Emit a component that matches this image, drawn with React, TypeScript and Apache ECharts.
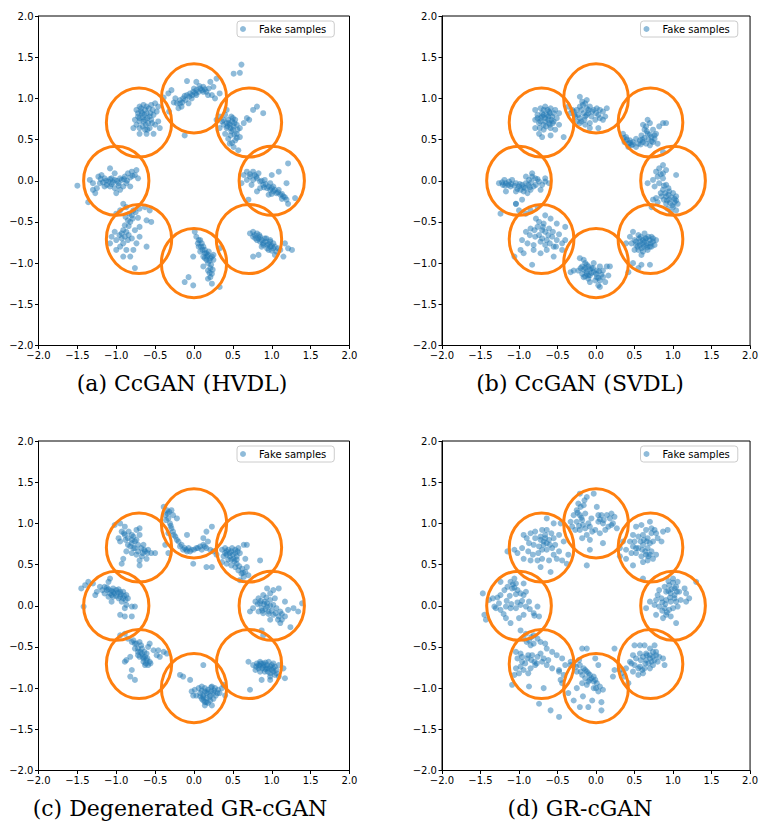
import React, { useEffect, useRef } from "react";
import * as echarts from "echarts";

const panelTitles = ["(a) CcGAN (HVDL)", "(b) CcGAN (SVDL)", "(c) Degenerated GR-cGAN", "(d) GR-cGAN"];
const seriesName = "Fake samples";
const ringCenters = [[1, 0], [0.7071, 0.7071], [0, 1], [-0.7071, 0.7071], [-1, 0], [-0.7071, -0.7071], [0, -1], [0.7071, -0.7071]];
const ringRadius = 0.42;
const axisMin = -2;
const axisMax = 2;
const axisStep = 0.5;

const hvdlPoints = [
  [-0.18,0.94],[-0.14,1.00],[-0.09,1.04],[-0.05,1.06],[-0.01,1.08],[0.03,1.10],[0.08,1.12],[0.12,1.14],[0.16,1.08],[0.23,1.04],[0.27,1.00],[-0.20,0.88],[-0.16,0.90],[-0.24,1.00],[-0.29,1.10],[-0.33,1.06],[-0.09,1.21],[0.03,1.20],[0.21,1.20],[0.29,1.24],[0.33,1.06],[0.61,1.41],[0.59,1.31],[0.51,1.30],[-0.12,0.55],[-0.32,0.84],[-0.03,1.00],[-0.07,0.94],[0.03,1.04],[0.12,1.08],[-0.22,0.94],[0.25,1.14],[-0.39,1.01],
  [-0.74,0.86],[-0.70,0.90],[-0.65,0.92],[-0.61,0.90],[-0.55,0.92],[-0.50,0.94],[-0.46,0.90],[-0.48,0.84],[-0.52,0.80],[-0.57,0.78],[-0.61,0.82],[-0.67,0.82],[-0.72,0.78],[-0.76,0.74],[-0.74,0.68],[-0.70,0.64],[-0.63,0.62],[-0.57,0.64],[-0.50,0.68],[-0.46,0.72],[-0.65,0.72],[-0.59,0.70],[-0.70,0.57],[-0.61,0.57],[-0.52,0.57],[-0.44,0.64],[-0.78,0.64],[-0.70,0.76],[-0.55,0.74],[-0.63,0.86],
  [0.33,0.78],[0.40,0.80],[0.44,0.74],[0.48,0.78],[0.53,0.74],[0.55,0.68],[0.51,0.66],[0.46,0.68],[0.42,0.64],[0.38,0.68],[0.36,0.72],[0.48,0.60],[0.55,0.57],[0.59,0.64],[0.64,0.70],[0.59,0.53],[0.53,0.49],[0.46,0.45],[0.51,0.41],[0.57,0.37],[0.44,0.51],[0.40,0.57],[0.68,0.76],[0.71,0.74],[0.81,0.90],[0.89,0.82],[0.76,0.86],[0.33,0.64],[0.42,0.86],[0.29,0.74],
  [0.64,0.07],[0.68,0.11],[0.72,0.05],[0.76,0.01],[0.81,0.03],[0.85,-0.01],[0.89,-0.05],[0.94,-0.09],[0.98,-0.11],[1.02,-0.13],[1.06,-0.15],[1.11,-0.17],[1.15,-0.19],[1.19,-0.23],[1.21,-0.28],[1.02,-0.07],[0.98,-0.03],[0.91,0.01],[0.83,0.09],[0.76,0.11],[0.68,0.01],[0.74,-0.05],[0.85,-0.09],[0.96,-0.17],[1.09,-0.11],[1.19,-0.03],[1.21,0.21],[1.09,0.11],[1.30,-0.21],[0.70,-0.23],[0.81,-0.13],[0.61,-0.03],[1.00,0.07],
  [0.72,-0.64],[0.76,-0.68],[0.81,-0.72],[0.85,-0.74],[0.89,-0.76],[0.94,-0.78],[0.98,-0.80],[1.02,-0.82],[1.06,-0.86],[1.02,-0.76],[0.98,-0.72],[0.91,-0.70],[0.85,-0.68],[0.81,-0.64],[0.76,-0.62],[0.87,-0.80],[0.96,-0.84],[1.11,-0.84],[1.17,-0.76],[1.21,-0.82],[1.26,-0.84],[1.15,-0.92],[1.04,-0.90],[0.76,-0.92],[0.83,-0.90],[0.98,-0.74],
  [0.01,-0.62],[0.03,-0.68],[0.06,-0.72],[0.10,-0.76],[0.12,-0.80],[0.14,-0.84],[0.16,-0.88],[0.18,-0.90],[0.21,-0.94],[0.23,-0.92],[0.25,-0.96],[0.16,-0.96],[0.12,-0.92],[0.08,-0.86],[0.06,-0.80],[0.18,-1.00],[0.21,-1.06],[0.23,-1.13],[0.21,-1.17],[0.23,-1.25],[0.25,-0.90],[0.33,-0.82],[-0.01,-0.92],[-0.07,-1.17],[-0.12,-1.23],[-0.01,-1.27],[0.33,-1.29],[0.18,-1.19],[0.12,-1.04],
  [-0.95,-0.36],[-0.87,-0.32],[-0.78,-0.36],[-0.70,-0.34],[-0.80,-0.42],[-0.85,-0.48],[-0.89,-0.54],[-0.91,-0.60],[-0.93,-0.64],[-0.89,-0.68],[-0.85,-0.72],[-0.91,-0.76],[-0.95,-0.80],[-1.00,-0.72],[-1.02,-0.62],[-1.06,-0.68],[-1.08,-0.76],[-1.00,-0.84],[-0.91,-0.92],[-0.82,-0.92],[-0.76,-1.06],[-0.74,-0.76],[-0.70,-0.68],[-0.70,-0.56],[-0.76,-0.60],[-0.61,-0.48],[-0.55,-0.50],[-0.61,-0.80],[-0.78,-0.84],[-0.87,-0.84],[-0.63,-0.32],[-0.57,-0.36],[-0.91,-0.28],[-1.00,-0.40],
  [-1.50,-0.06],[-1.34,0.01],[-1.30,-0.03],[-1.23,0.05],[-1.19,0.07],[-1.15,0.03],[-1.10,-0.01],[-1.06,0.03],[-1.02,0.01],[-0.97,-0.03],[-0.93,0.01],[-0.89,0.05],[-0.85,0.09],[-0.80,0.11],[-0.76,0.07],[-0.72,0.03],[-0.87,-0.03],[-0.91,-0.07],[-0.95,-0.11],[-1.02,-0.09],[-1.08,-0.07],[-1.15,-0.07],[-1.21,-0.03],[-1.25,-0.09],[-1.30,-0.11],[-1.08,0.15],[-1.02,0.09],[-0.82,-0.07],[-1.36,-0.26],[-1.27,-0.15],[-1.00,-0.15],[-0.74,0.13]
];
const hvdlDense = [
  [-0.15,0.95],[-0.11,0.98],[-0.06,1.02],[-0.02,1.04],[0.02,1.06],[0.06,1.08],[0.10,1.10],[0.14,1.11],[0.19,1.12],[0.07,1.15],[-0.12,1.03],[-0.18,0.98],[0.00,1.12],[0.18,1.04],[-0.26,0.95],
  [-0.68,0.84],[-0.64,0.80],[-0.60,0.76],[-0.66,0.77],[-0.70,0.72],[-0.62,0.68],[-0.56,0.82],[-0.53,0.86],[-0.58,0.88],[-0.68,0.88],[-0.72,0.82],[-0.66,0.66],[-0.60,0.62],[-0.54,0.70],[-0.63,0.74],
  [0.45,0.70],[0.49,0.72],[0.52,0.70],[0.47,0.64],[0.50,0.62],[0.43,0.66],[0.56,0.62],[0.52,0.56],[0.47,0.55],[0.42,0.70],[0.38,0.74],[0.50,0.76],[0.55,0.52],[0.49,0.46],
  [0.80,0.05],[0.87,0.00],[0.92,-0.04],[0.96,-0.07],[1.00,-0.09],[1.04,-0.11],[1.08,-0.14],[1.13,-0.16],[1.17,-0.20],[0.78,0.07],[0.72,0.08],[0.90,-0.08],[1.00,-0.16],[1.13,-0.22],
  [0.78,-0.66],[0.83,-0.70],[0.87,-0.72],[0.92,-0.74],[0.96,-0.77],[1.00,-0.79],[1.04,-0.80],[0.94,-0.82],[0.89,-0.78],[0.84,-0.66],[0.79,-0.70],[1.00,-0.85],[1.08,-0.82],[0.93,-0.70],
  [0.05,-0.76],[0.09,-0.80],[0.11,-0.84],[0.14,-0.88],[0.17,-0.92],[0.20,-0.97],[0.19,-0.86],[0.14,-0.94],[0.22,-1.02],[0.18,-1.09],[0.08,-0.72],[0.24,-1.08],[0.20,-1.12],
  [-0.83,-0.40],[-0.79,-0.46],[-0.84,-0.55],[-0.87,-0.62],[-0.84,-0.66],[-0.80,-0.70],[-0.88,-0.44],[-0.75,-0.38],[-0.93,-0.70],[-0.96,-0.66],[-0.82,-0.50],[-0.72,-0.45],
  [-1.13,0.00],[-1.08,0.02],[-1.04,-0.02],[-0.99,0.00],[-0.95,0.03],[-0.90,0.02],[-0.86,0.00],[-0.82,0.04],[-1.17,-0.02],[-1.20,0.02],[-1.12,-0.05],[-0.97,-0.06],[-0.79,0.06],[-1.06,-0.04]
];

const svdlPoints = [
  [-0.21,1.02],[-0.18,0.96],[-0.14,0.94],[-0.21,0.90],[-0.25,0.86],[-0.29,0.84],[-0.33,0.82],[-0.27,0.78],[-0.21,0.76],[-0.14,0.78],[-0.10,0.82],[-0.12,0.88],[-0.08,0.90],[-0.03,0.86],[0.01,0.88],[0.05,0.86],[0.09,0.84],[0.12,0.78],[0.05,0.76],[-0.01,0.74],[-0.08,0.70],[-0.14,0.68],[-0.21,0.70],[0.09,0.74],[0.14,0.88],[0.03,0.64],[-0.08,0.64],[-0.36,0.90],[-0.25,0.72],[-0.06,0.78],
  [-0.79,0.86],[-0.72,0.88],[-0.66,0.90],[-0.59,0.88],[-0.53,0.86],[-0.48,0.82],[-0.51,0.76],[-0.55,0.72],[-0.61,0.70],[-0.68,0.68],[-0.74,0.70],[-0.79,0.74],[-0.76,0.80],[-0.70,0.82],[-0.64,0.80],[-0.57,0.78],[-0.72,0.76],[-0.66,0.76],[-0.59,0.64],[-0.68,0.62],[-0.74,0.57],[-0.59,0.55],[-0.53,0.62],[-0.48,0.68],[-0.79,0.64],[-0.70,0.53],[-0.42,0.53],[-0.61,0.84],[-0.55,0.82],[-0.73,0.64],
  [0.35,0.57],[0.39,0.53],[0.44,0.49],[0.46,0.43],[0.42,0.41],[0.48,0.47],[0.52,0.51],[0.57,0.49],[0.61,0.47],[0.65,0.45],[0.70,0.43],[0.74,0.47],[0.72,0.53],[0.67,0.57],[0.63,0.62],[0.65,0.66],[0.70,0.70],[0.74,0.62],[0.78,0.57],[0.82,0.66],[0.87,0.70],[0.91,0.70],[0.76,0.51],[0.80,0.45],[0.67,0.74],[0.87,0.35],[0.52,0.41],[0.37,0.47],[0.59,0.55],[0.61,0.68],
  [0.87,0.19],[0.82,0.15],[0.78,0.11],[0.87,0.09],[0.91,0.13],[0.80,0.05],[0.74,0.01],[0.67,-0.03],[0.87,0.03],[0.82,-0.03],[0.76,-0.07],[0.91,-0.05],[0.87,-0.11],[0.95,-0.13],[1.00,-0.15],[1.04,-0.19],[0.91,-0.19],[0.85,-0.19],[0.78,-0.21],[0.74,-0.23],[0.95,-0.23],[1.02,-0.26],[1.06,-0.28],[1.00,-0.32],[0.93,-0.34],[0.97,-0.38],[1.04,-0.36],[0.72,-0.32],[1.04,0.07],[0.91,-0.28],
  [0.48,-0.62],[0.55,-0.66],[0.50,-0.72],[0.46,-0.76],[0.52,-0.78],[0.57,-0.74],[0.61,-0.72],[0.65,-0.70],[0.70,-0.72],[0.74,-0.74],[0.78,-0.72],[0.76,-0.78],[0.70,-0.80],[0.65,-0.78],[0.59,-0.82],[0.55,-0.84],[0.61,-0.86],[0.67,-0.84],[0.59,-0.90],[0.44,-0.68],[0.48,-1.00],[0.55,-1.06],[0.59,-1.02],[0.70,-1.02],[0.42,-1.11],[0.39,-0.76],[0.63,-0.64],[0.72,-0.68],[0.57,-0.78],[0.50,-0.84],
  [-0.33,-1.11],[-0.29,-1.09],[-0.21,-0.94],[-0.16,-0.96],[-0.18,-1.04],[-0.14,-1.06],[-0.10,-1.04],[-0.12,-1.13],[-0.08,-1.15],[-0.03,-1.11],[0.01,-1.09],[0.05,-1.04],[0.09,-1.09],[0.14,-1.04],[0.16,-1.15],[0.09,-1.17],[0.05,-1.21],[0.03,-1.27],[0.05,-1.29],[-0.08,-1.23],[-0.03,-1.00],[-0.23,-1.09],[-0.16,-1.17],[-0.10,-1.19],[0.18,-1.04],[0.01,-1.17],[-0.18,-1.13],[-0.06,-1.06],[-0.14,-1.00],[0.12,-1.23],
  [-1.00,-0.36],[-0.91,-0.40],[-0.85,-0.36],[-0.76,-0.32],[-0.66,-0.42],[-0.59,-0.46],[-0.51,-0.52],[-0.40,-0.56],[-0.68,-0.52],[-0.76,-0.56],[-0.85,-0.58],[-0.91,-0.62],[-0.96,-0.72],[-0.89,-0.76],[-0.81,-0.78],[-0.72,-0.74],[-0.64,-0.72],[-0.57,-0.68],[-0.51,-0.72],[-0.44,-0.76],[-0.40,-0.72],[-0.55,-0.80],[-0.64,-0.84],[-0.72,-0.88],[-0.81,-0.84],[-0.94,-0.88],[-1.06,-0.92],[-0.83,-1.02],[-0.55,-0.92],[-0.44,-0.84],[-0.79,-0.68],[-0.70,-0.60],[-0.61,-0.58],[-0.98,-0.84],[-1.24,-0.40],[-1.04,-0.28],
  [-1.26,-0.03],[-1.21,-0.05],[-1.17,-0.03],[-1.13,-0.01],[-1.09,0.01],[-1.04,-0.03],[-1.00,-0.07],[-0.96,-0.05],[-0.91,-0.03],[-0.87,0.01],[-0.83,0.05],[-0.79,0.03],[-0.74,-0.01],[-0.70,-0.05],[-0.66,-0.01],[-0.61,-0.03],[-0.81,-0.07],[-0.85,-0.11],[-0.89,-0.15],[-0.94,-0.13],[-0.98,-0.11],[-1.04,-0.13],[-1.11,-0.07],[-0.91,0.05],[-0.83,0.09],[-1.04,-0.28],[-0.96,-0.23],[-1.17,-0.13],[-0.72,-0.11],[-0.66,0.03],[-1.19,0.01]
];
const svdlDense = [
  [-0.19,0.86],[-0.16,0.82],[-0.12,0.80],[-0.17,0.92],[-0.23,0.80],[-0.28,0.80],[-0.10,0.86],[-0.05,0.84],[0.00,0.82],[-0.15,0.74],[-0.19,0.72],[0.03,0.80],[-0.31,0.86],[-0.12,0.98],
  [-0.70,0.78],[-0.66,0.72],[-0.62,0.74],[-0.60,0.82],[-0.68,0.86],[-0.63,0.86],[-0.58,0.74],[-0.72,0.72],[-0.65,0.66],[-0.60,0.68],[-0.76,0.76],[-0.56,0.70],[-0.62,0.78],[-0.68,0.80],
  [0.40,0.50],[0.44,0.46],[0.48,0.44],[0.55,0.45],[0.60,0.50],[0.63,0.52],[0.68,0.50],[0.72,0.48],[0.66,0.60],[0.70,0.56],[0.36,0.52],[0.42,0.45],[0.58,0.44],[0.76,0.55],
  [0.90,-0.15],[0.94,-0.17],[0.98,-0.20],[1.02,-0.22],[0.96,-0.27],[0.92,-0.24],[0.88,-0.23],[0.84,-0.15],[0.99,-0.30],[1.04,-0.24],[0.88,-0.06],[0.84,0.08],[0.94,-0.09],[0.80,-0.26],
  [0.60,-0.76],[0.63,-0.74],[0.67,-0.76],[0.71,-0.76],[0.62,-0.80],[0.66,-0.81],[0.56,-0.70],[0.52,-0.74],[0.58,-0.68],[0.68,-0.68],[0.74,-0.70],[0.54,-0.80],[0.64,-0.70],[0.72,-0.80],
  [-0.16,-1.08],[-0.12,-1.10],[-0.08,-1.08],[-0.04,-1.06],[-0.12,-1.02],[-0.20,-1.06],[-0.06,-1.12],[-0.10,-1.15],[0.00,-1.13],[0.04,-1.10],[0.07,-1.14],[-0.14,-1.16],[-0.01,-1.21],[0.03,-1.18],
  [-0.66,-0.62],[-0.62,-0.66],[-0.70,-0.70],[-0.74,-0.66],[-0.66,-0.78],[-0.60,-0.76],[-0.80,-0.60],[-0.86,-0.66],[-0.56,-0.62],[-0.69,-0.56],[-0.78,-0.46],[-0.74,-0.50],[-0.52,-0.80],[-0.48,-0.65],
  [-1.22,-0.02],[-1.18,-0.06],[-1.14,-0.05],[-1.10,-0.04],[-1.06,-0.06],[-0.99,-0.04],[-0.94,-0.08],[-0.88,-0.05],[-0.84,-0.02],[-0.78,-0.05],[-0.86,-0.08],[-0.76,0.02],[-1.02,-0.10],[-0.92,-0.09]
];

const degeneratedPoints = [
  [-0.39,1.20],[-0.35,1.16],[-0.37,1.10],[-0.33,1.06],[-0.31,1.00],[-0.29,0.94],[-0.27,0.90],[-0.33,0.88],[-0.24,0.84],[-0.20,0.78],[-0.18,0.72],[-0.14,0.68],[-0.09,0.66],[-0.07,0.70],[-0.03,0.68],[0.03,0.70],[0.08,0.72],[0.12,0.74],[0.16,0.70],[0.21,0.68],[0.18,0.78],[0.12,0.82],[0.16,0.90],[0.23,0.96],[-0.22,1.06],[-0.27,1.10],[-0.37,0.74],[-0.33,0.64],[-0.01,0.51],[0.16,0.47],[0.23,0.47],[-0.09,0.86],[-0.29,1.16],
  [-1.02,0.98],[-0.95,1.00],[-0.89,0.96],[-0.93,0.90],[-0.97,0.82],[-0.89,0.86],[-0.85,0.82],[-0.80,0.86],[-0.74,0.92],[-0.70,0.94],[-0.70,0.86],[-0.74,0.80],[-0.80,0.76],[-0.85,0.74],[-0.87,0.66],[-0.80,0.64],[-0.74,0.62],[-0.67,0.60],[-0.63,0.66],[-0.59,0.68],[-0.55,0.64],[-0.50,0.64],[-0.61,0.57],[-0.70,0.55],[-0.91,0.57],[-0.93,0.51],[-0.70,0.49],[-0.65,0.74],[-0.95,0.78],[-0.78,0.70],
  [0.36,0.68],[0.40,0.70],[0.44,0.68],[0.48,0.66],[0.53,0.68],[0.57,0.70],[0.59,0.64],[0.55,0.60],[0.51,0.57],[0.46,0.60],[0.42,0.62],[0.38,0.60],[0.36,0.53],[0.42,0.51],[0.48,0.49],[0.53,0.47],[0.57,0.43],[0.61,0.39],[0.64,0.35],[0.59,0.31],[0.66,0.41],[0.68,0.47],[0.66,0.57],[0.68,0.74],[0.64,0.74],[0.85,0.55],[0.25,0.66],[0.29,0.62],[0.55,0.51],[0.70,0.37],
  [0.94,0.21],[1.02,0.19],[1.09,0.21],[0.98,0.15],[0.89,0.13],[0.83,0.09],[0.79,0.05],[0.85,0.03],[0.91,0.05],[0.98,0.07],[1.02,0.01],[0.94,-0.01],[0.87,-0.03],[0.83,-0.07],[0.89,-0.09],[0.96,-0.07],[1.02,-0.11],[1.09,-0.13],[1.13,-0.17],[1.17,-0.13],[1.11,-0.07],[1.21,-0.05],[1.28,-0.03],[1.34,-0.07],[1.39,0.03],[1.24,-0.26],[1.11,-0.21],[0.76,-0.03],[0.72,-0.07],[1.04,0.09],[1.17,0.05],[0.98,-0.17],
  [0.87,-0.30],[0.89,-0.36],[0.70,-0.68],[0.76,-0.72],[0.81,-0.70],[0.85,-0.68],[0.89,-0.70],[0.94,-0.72],[0.98,-0.74],[1.02,-0.76],[1.06,-0.78],[1.09,-0.72],[1.02,-0.70],[0.96,-0.68],[0.89,-0.74],[0.83,-0.76],[0.79,-0.78],[0.85,-0.80],[0.91,-0.80],[0.98,-0.82],[1.04,-0.84],[1.09,-0.86],[0.98,-0.90],[0.87,-0.90],[1.15,-0.76],[1.17,-0.88],[0.72,-1.02],[1.02,-0.80],[0.94,-0.76],[0.83,-0.72],
  [0.12,-0.72],[-0.18,-0.84],[-0.14,-0.86],[-0.05,-0.90],[-0.03,-1.04],[0.01,-1.02],[0.06,-1.00],[0.10,-0.98],[0.14,-1.00],[0.18,-1.02],[0.23,-0.98],[0.27,-1.00],[0.31,-1.02],[0.36,-1.00],[0.38,-0.96],[0.08,-1.06],[0.12,-1.09],[0.16,-1.06],[0.21,-1.09],[0.25,-1.06],[0.12,-1.15],[0.16,-1.17],[0.21,-1.15],[0.14,-1.21],[0.10,-1.13],[0.03,-1.09],[0.25,-1.13],[0.33,-1.06],[0.40,-1.09],[-0.01,-1.09],[0.23,-1.21],
  [-0.95,-0.36],[-0.89,-0.34],[-0.85,-0.40],[-0.78,-0.42],[-0.74,-0.46],[-0.76,-0.52],[-0.72,-0.56],[-0.67,-0.58],[-0.70,-0.62],[-0.65,-0.64],[-0.61,-0.66],[-0.63,-0.72],[-0.59,-0.72],[-0.57,-0.68],[-0.61,-0.58],[-0.67,-0.52],[-0.70,-0.44],[-0.59,-0.50],[-0.52,-0.54],[-0.46,-0.54],[-0.39,-0.56],[-0.35,-0.58],[-0.44,-0.62],[-0.82,-0.62],[-0.87,-0.66],[-0.89,-0.68],[-0.80,-0.78],[-0.82,-0.86],[-0.76,-0.90],[-0.57,-0.46],[-0.48,-0.60],
  [-1.45,0.21],[-1.40,0.25],[-1.36,0.29],[-1.30,0.27],[-1.25,0.17],[-1.27,0.13],[-1.21,0.23],[-1.15,0.23],[-1.10,0.29],[-1.08,0.33],[-1.12,0.19],[-1.08,0.15],[-1.04,0.17],[-1.00,0.19],[-0.95,0.17],[-0.91,0.17],[-0.87,0.13],[-0.85,0.09],[-0.91,0.09],[-0.97,0.09],[-1.04,0.11],[-1.10,0.11],[-1.15,0.15],[-0.93,0.05],[-0.87,0.01],[-0.80,-0.01],[-0.76,-0.01],[-0.89,-0.03],[-0.95,-0.11],[-0.89,-0.13],[-0.80,-0.13],[-1.06,0.05],[-1.42,-0.01]
];
const degeneratedDense = [
  [-0.12,0.70],[-0.10,0.68],[-0.05,0.66],[0.00,0.68],[0.05,0.70],[-0.16,0.74],[-0.22,0.80],[-0.30,0.97],[-0.34,1.12],[-0.36,1.04],[-0.32,1.14],[0.10,0.68],[-0.26,0.86],[0.14,0.72],
  [-0.80,0.80],[-0.76,0.78],[-0.72,0.74],[-0.68,0.70],[-0.64,0.68],[-0.60,0.64],[-0.76,0.70],[-0.82,0.72],[-0.88,0.80],[-0.90,0.88],[-0.84,0.90],[-0.72,0.66],[-0.66,0.64],[-0.78,0.84],
  [0.42,0.66],[0.46,0.64],[0.50,0.62],[0.53,0.64],[0.56,0.66],[0.44,0.56],[0.48,0.56],[0.52,0.54],[0.58,0.48],[0.62,0.45],[0.40,0.64],[0.55,0.56],[0.63,0.40],[0.49,0.70],
  [0.86,0.06],[0.90,0.02],[0.94,0.03],[0.98,0.00],[0.92,-0.04],[0.88,-0.06],[0.96,-0.10],[1.00,-0.06],[1.05,-0.09],[1.08,-0.17],[0.82,0.02],[0.93,0.10],[1.06,-0.03],[1.13,-0.10],
  [0.84,-0.73],[0.88,-0.76],[0.92,-0.77],[0.96,-0.76],[1.00,-0.78],[0.95,-0.80],[0.90,-0.72],[1.04,-0.74],[0.86,-0.70],[0.92,-0.69],[1.00,-0.72],[1.06,-0.82],[0.80,-0.74],[0.98,-0.86],
  [0.10,-1.03],[0.14,-1.04],[0.18,-1.05],[0.22,-1.04],[0.26,-1.03],[0.12,-1.11],[0.16,-1.12],[0.20,-1.11],[0.18,-1.18],[0.14,-1.17],[0.30,-1.06],[0.08,-1.10],[0.22,-0.99],[0.28,-1.09],
  [-0.72,-0.52],[-0.69,-0.56],[-0.66,-0.62],[-0.63,-0.62],[-0.60,-0.64],[-0.65,-0.68],[-0.62,-0.70],[-0.68,-0.48],[-0.76,-0.46],[-0.80,-0.44],[-0.56,-0.70],[-0.64,-0.56],[-0.72,-0.60],
  [-1.10,0.20],[-1.06,0.18],[-1.02,0.15],[-0.98,0.16],[-0.94,0.14],[-1.06,0.13],[-1.00,0.12],[-0.95,0.11],[-0.90,0.12],[-1.12,0.22],[-1.04,0.21],[-0.88,0.07],[-1.18,0.19],[-0.97,0.20]
];

const grcganPoints = [
  [-0.21,1.36],[-0.12,1.32],[-0.03,1.36],[-0.23,1.24],[-0.16,1.22],[-0.25,1.16],[-0.29,1.10],[-0.21,1.10],[-0.14,1.12],[-0.18,1.04],[-0.25,1.02],[-0.31,0.96],[-0.27,0.92],[-0.21,0.92],[-0.14,0.94],[-0.08,0.96],[-0.12,0.86],[-0.18,0.82],[-0.08,0.80],[0.01,1.20],[0.07,1.10],[0.14,1.10],[0.20,1.12],[0.24,1.08],[0.22,1.00],[0.16,0.96],[0.09,1.00],[0.03,1.02],[-0.01,0.92],[0.05,0.88],[0.12,0.92],[0.09,0.76],[-0.08,0.68],[-0.12,0.49],[-0.33,1.02],[0.27,0.94],[-0.06,1.06],[0.03,1.10],
  [-0.94,0.86],[-0.85,0.88],[-0.79,0.90],[-0.70,0.92],[-0.66,0.86],[-0.72,0.84],[-0.79,0.82],[-0.68,0.78],[-0.61,0.80],[-0.55,0.82],[-0.48,0.86],[-0.64,0.92],[-0.81,0.74],[-0.74,0.72],[-0.70,0.68],[-0.64,0.68],[-0.57,0.70],[-0.53,0.74],[-0.87,0.76],[-0.96,0.70],[-1.06,0.68],[-1.02,0.64],[-0.94,0.57],[-0.85,0.55],[-0.76,0.55],[-0.70,0.57],[-0.61,0.55],[-0.51,0.57],[-0.44,0.55],[-0.38,0.51],[-0.36,0.62],[-0.42,0.78],[-0.59,0.41],[-0.72,0.47],[-1.15,0.66],[-0.64,1.06],[-0.55,1.00],[-0.46,1.00],
  [0.52,0.96],[0.59,0.98],[0.65,0.92],[0.72,0.88],[0.78,0.88],[0.87,0.90],[0.93,0.92],[0.48,0.86],[0.55,0.84],[0.61,0.86],[0.67,0.82],[0.74,0.78],[0.80,0.82],[0.44,0.78],[0.48,0.72],[0.55,0.70],[0.61,0.74],[0.67,0.70],[0.72,0.66],[0.65,0.62],[0.59,0.60],[0.52,0.64],[0.46,0.64],[0.39,0.68],[0.35,0.78],[0.31,0.70],[0.61,0.53],[0.67,0.55],[0.74,0.57],[0.78,0.62],[0.39,0.57],[0.48,0.49],[0.61,0.33],[0.31,0.60],[0.70,1.02],[0.85,0.78],
  [1.00,0.33],[1.06,0.29],[1.04,0.23],[0.95,0.25],[0.89,0.23],[0.82,0.19],[0.91,0.17],[0.97,0.15],[1.02,0.13],[1.08,0.17],[1.15,0.21],[1.30,0.29],[1.21,0.09],[1.17,0.05],[1.10,0.07],[1.04,0.05],[0.97,0.05],[0.91,0.07],[0.85,0.09],[0.78,0.07],[0.76,0.01],[0.82,-0.01],[0.89,-0.03],[0.95,-0.05],[1.00,-0.03],[1.06,-0.01],[0.91,-0.11],[0.97,-0.13],[0.87,-0.15],[0.78,-0.11],[1.04,-0.21],[0.65,-0.03],[0.70,0.05],[1.02,0.21],[1.17,0.15],
  [0.50,-0.48],[0.57,-0.48],[0.63,-0.48],[0.70,-0.52],[0.74,-0.56],[0.78,-0.60],[0.82,-0.62],[0.87,-0.64],[0.80,-0.68],[0.74,-0.72],[0.70,-0.64],[0.65,-0.66],[0.61,-0.62],[0.57,-0.58],[0.52,-0.64],[0.48,-0.60],[0.44,-0.68],[0.50,-0.72],[0.57,-0.74],[0.63,-0.76],[0.70,-0.76],[0.61,-0.82],[0.55,-0.84],[0.48,-0.80],[0.39,-0.76],[0.33,-0.82],[0.31,-0.78],[0.37,-0.86],[0.42,-0.94],[0.24,-0.78],[0.22,-0.86],[0.76,-0.48],[0.65,-0.58],[0.89,-0.72],
  [-0.18,-0.52],[-0.12,-0.52],[-0.33,-0.68],[-0.29,-0.72],[-0.21,-0.72],[-0.16,-0.76],[-0.25,-0.80],[-0.18,-0.84],[-0.14,-0.88],[-0.08,-0.90],[-0.03,-0.92],[0.01,-0.94],[0.05,-0.98],[0.09,-1.02],[-0.10,-0.82],[-0.03,-0.86],[-0.18,-0.94],[-0.12,-0.96],[-0.03,-1.00],[0.03,-1.04],[-0.25,-1.00],[-0.36,-1.06],[-0.44,-0.94],[-0.42,-0.84],[-0.48,-0.80],[-0.29,-1.15],[-0.21,-1.23],[-0.10,-1.23],[0.07,-1.17],[0.07,-1.27],[0.03,-0.72],[-0.01,-0.64],[0.24,-0.52],[-0.59,-1.27],[-0.48,-1.35],
  [-0.98,-0.30],[-0.91,-0.34],[-0.94,-0.40],[-0.87,-0.42],[-0.85,-0.48],[-0.81,-0.46],[-0.76,-0.40],[-0.72,-0.44],[-0.66,-0.46],[-0.81,-0.36],[-1.04,-0.56],[-0.98,-0.58],[-1.02,-0.64],[-0.96,-0.68],[-0.89,-0.64],[-0.83,-0.60],[-0.76,-0.62],[-0.72,-0.58],[-0.64,-0.52],[-0.57,-0.56],[-0.51,-0.60],[-0.44,-0.64],[-0.40,-0.72],[-0.48,-0.78],[-0.57,-0.76],[-0.64,-0.72],[-0.70,-0.68],[-0.79,-0.72],[-0.85,-0.76],[-0.94,-0.78],[-1.00,-0.82],[-1.06,-0.84],[-1.04,-0.76],[-0.87,-0.98],[-0.68,-1.00],[-0.74,-1.19],[-0.46,-0.90],[-0.33,-0.72],[-1.09,-0.96],
  [-1.47,0.15],[-1.45,-0.11],[-1.43,-0.17],[-1.39,0.07],[-1.34,0.09],[-1.32,-0.01],[-1.26,0.03],[-1.24,0.13],[-1.19,0.19],[-1.15,0.23],[-1.11,0.29],[-1.06,0.33],[-1.04,0.27],[-1.09,0.21],[-1.02,0.19],[-0.98,0.15],[-0.94,0.13],[-0.91,0.17],[-0.94,0.27],[-0.87,0.05],[-0.91,-0.01],[-0.98,0.01],[-1.04,-0.03],[-1.11,-0.03],[-1.17,-0.01],[-1.24,-0.05],[-1.30,-0.03],[-1.17,-0.15],[-1.11,-0.21],[-1.00,-0.15],[-0.94,-0.11],[-0.81,-0.09],[-0.76,-0.01],[-0.74,-0.13],[-1.24,0.29]
];
const grcganDense = [
  [-0.20,1.20],[-0.24,1.13],[-0.19,1.07],[-0.17,0.98],[-0.22,0.97],[-0.10,1.00],[0.05,1.05],[0.10,1.04],[0.18,1.06],[-0.15,1.28],[-0.05,0.90],[0.20,0.98],
  [-0.68,0.74],[-0.64,0.76],[-0.60,0.74],[-0.66,0.82],[-0.72,0.80],[-0.75,0.64],[-0.82,0.62],[-0.88,0.66],[-0.55,0.62],[-0.48,0.66],[-0.90,0.82],[-0.58,0.88],
  [0.58,0.78],[0.62,0.80],[0.66,0.78],[0.70,0.76],[0.60,0.68],[0.64,0.66],[0.68,0.60],[0.70,0.62],[0.52,0.70],[0.50,0.78],[0.76,0.92],[0.72,0.94],
  [1.00,0.28],[0.98,0.20],[0.94,0.18],[0.96,0.10],[1.02,0.09],[0.90,0.02],[0.86,0.04],[0.92,-0.08],[0.86,-0.06],[1.05,0.17],[0.94,0.30],[0.80,0.13],
  [0.70,-0.60],[0.74,-0.62],[0.72,-0.68],[0.68,-0.70],[0.76,-0.66],[0.66,-0.60],[0.64,-0.70],[0.78,-0.56],[0.58,-0.66],[0.55,-0.76],[0.46,-0.70],[0.60,-0.78],
  [-0.12,-0.80],[-0.08,-0.84],[-0.14,-0.78],[-0.20,-0.80],[-0.06,-0.88],[-0.01,-0.90],[-0.10,-0.92],[-0.22,-0.66],[-0.26,-0.74],[0.00,-1.00],[-0.17,-1.10],[-0.05,-1.15],
  [-0.88,-0.60],[-0.84,-0.66],[-0.80,-0.68],[-0.77,-0.70],[-0.92,-0.70],[-0.96,-0.62],[-0.90,-0.44],[-0.84,-0.38],[-0.68,-0.64],[-0.62,-0.66],[-0.98,-0.74],[-0.88,-0.82],
  [-1.08,0.26],[-1.06,0.22],[-1.04,0.14],[-1.12,0.12],[-1.16,0.06],[-1.10,0.02],[-1.02,0.04],[-0.96,0.06],[-1.28,0.10],[-0.86,-0.04],[-0.80,-0.12],[-1.20,-0.10]
];

const panelPoints = [
  hvdlPoints.concat(hvdlDense),
  svdlPoints.concat(svdlDense),
  degeneratedPoints.concat(degeneratedDense),
  grcganPoints.concat(grcganDense),
];

const GRID_W = 311;
const GRID_H = 329.5;
const gridPos = [
  { left: 38.5, top: 16 },
  { left: 442, top: 16 },
  { left: 38.5, top: 441 },
  { left: 442, top: 441 },
];
const captionPos = [
  { x: 182, y: 383 },
  { x: 580, y: 383 },
  { x: 180, y: 808 },
  { x: 580, y: 808 },
];

const fmt = (v: number) => v.toFixed(1).replace("-", "\u2212");

export default function App() {
  const ref = useRef<HTMLDivElement>(null);
  useEffect(() => {
    if (!ref.current) return;
    const chart = echarts.init(ref.current, undefined, { renderer: "svg" });
    const axisCommon = (i: number) => ({
      type: "value",
      gridIndex: i,
      min: axisMin,
      max: axisMax,
      interval: axisStep,
      axisLine: { show: true, onZero: false, lineStyle: { color: "#000", width: 1 } },
      axisTick: { show: true, length: 3.5, lineStyle: { color: "#000", width: 1 } },
      axisLabel: {
        show: true,
        formatter: fmt,
        color: "#000",
        fontSize: 10,
        fontFamily: "DejaVu Sans",
        margin: 5,
        showMinLabel: true,
        showMaxLabel: true,
      },
      splitLine: { show: false },
    });
    const option: any = {
      animation: false,
      backgroundColor: "#fff",
      grid: gridPos.map((g) => ({
        left: g.left,
        top: g.top,
        width: GRID_W,
        height: GRID_H,
        show: true,
        borderColor: "#000",
        borderWidth: 1,
        backgroundColor: "transparent",
      })),
      xAxis: gridPos.map((_, i) => axisCommon(i)),
      yAxis: gridPos.map((_, i) => axisCommon(i)),
      legend: gridPos.map((g) => ({
        data: [seriesName],
        left: g.left + 198.5,
        top: g.top + 5,
        orient: "horizontal",
        icon: "circle",
        itemWidth: 22,
        itemHeight: 6,
        itemStyle: { opacity: 0.5 },
        selectedMode: false,
        padding: [3, 8, 3, 3],
        backgroundColor: "#fff",
        borderColor: "#cccccc",
        borderWidth: 1,
        borderRadius: 3,
        textStyle: { color: "#000", fontSize: 10, fontFamily: "DejaVu Sans" },
      })),
      series: [
        ...panelPoints.map((pts, i) => ({
          type: "scatter",
          name: seriesName,
          xAxisIndex: i,
          yAxisIndex: i,
          data: pts,
          symbol: "circle",
          symbolSize: 6,
          itemStyle: { color: "#1f77b4", opacity: 0.5 },
          emphasis: { disabled: true },
          z: 2,
        })),
        ...panelPoints.map((_, i) => ({
          type: "custom",
          name: "rings" + i,
          xAxisIndex: i,
          yAxisIndex: i,
          data: ringCenters,
          encode: { x: 0, y: 1 },
          z: 3,
          silent: true,
          renderItem: (params: any, api: any) => {
            const c = api.coord([api.value(0), api.value(1)]);
            const s = api.size([ringRadius, ringRadius]);
            return {
              type: "ellipse",
              shape: { cx: c[0], cy: c[1], rx: s[0], ry: s[1] },
              style: { fill: "none", stroke: "#ff7f0e", lineWidth: 3 },
            };
          },
        })),
      ],
      graphic: panelTitles.map((t, i) => ({
        type: "text",
        x: captionPos[i].x,
        y: captionPos[i].y,
        style: {
          text: t,
          fill: "#000",
          fontSize: 22,
          fontFamily: "DejaVu Serif",
          align: "center",
          verticalAlign: "middle",
        },
      })),
    };
    chart.setOption(option);
    return () => chart.dispose();
  }, []);
  return (
    <div
      ref={ref}
      style={{ position: "fixed", left: 0, top: 0, width: 761, height: 823, background: "#fff" }}
    />
  );
}
